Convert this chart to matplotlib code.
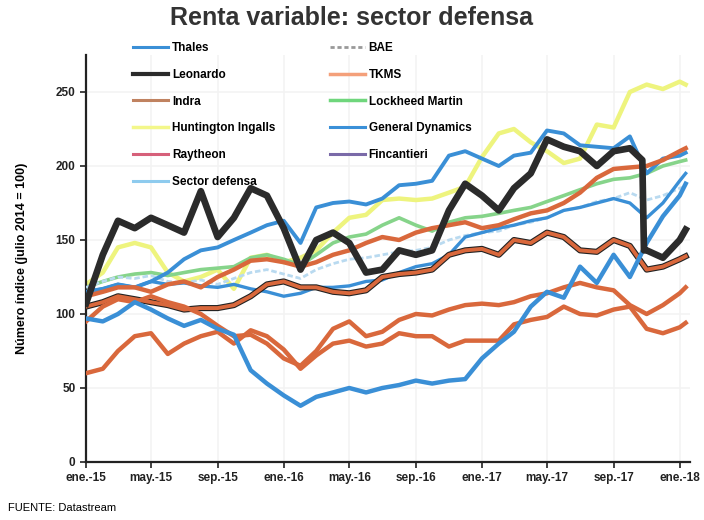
import matplotlib
matplotlib.use("Agg")
import matplotlib.pyplot as plt
from matplotlib.lines import Line2D
import pandas as pd

plt.rcParams['font.family'] = ['Liberation Sans', 'DejaVu Sans']

# ---- data (monthly readings, julio 2014 = 100) ----
dates = list(pd.date_range("2015-01-01", periods=37, freq="MS")) + [pd.Timestamp("2018-01-12")]

thales = [97, 95, 100, 108, 103, 97, 92, 96, 90, 86, 62, 53, 45, 38, 44, 47, 50, 47, 50, 52,
          55, 53, 55, 56, 70, 80, 88, 105, 115, 111, 132, 121, 140, 125, 148, 166, 180, 188]
# Leonardo has two extra readings around its late-2017 fall
leonardo_dates = (list(pd.date_range("2015-01-01", periods=34, freq="MS"))
                  + [pd.Timestamp("2017-10-24"), pd.Timestamp("2017-10-27")]
                  + list(pd.date_range("2017-11-01", periods=3, freq="MS"))
                  + [pd.Timestamp("2018-01-12")])
leonardo = [107, 140, 163, 158, 165, 160, 155, 183, 152, 165, 185, 180, 158, 130, 150, 155, 148, 128, 130, 143,
            140, 143, 170, 188, 180, 170, 185, 195, 218, 213, 210, 200, 210, 212, 204, 143,
            143, 138, 150, 157]
indra = [105, 108, 112, 110, 108, 106, 103, 104, 104, 106, 112, 120, 122, 118, 118, 115, 114, 116, 125, 127,
         128, 130, 140, 143, 144, 140, 150, 148, 155, 152, 143, 142, 150, 146, 130, 132, 137, 139]
huntington = [120, 128, 145, 148, 145, 128, 122, 125, 130, 117, 138, 140, 135, 138, 143, 155, 165, 167, 177, 178,
              177, 178, 182, 186, 206, 222, 225, 216, 210, 202, 205, 228, 226, 250, 255, 252, 257, 255]
raytheon = [112, 115, 118, 118, 115, 120, 122, 118, 125, 130, 136, 137, 135, 132, 135, 140, 143, 148, 152, 150,
            155, 158, 160, 162, 158, 160, 164, 168, 170, 175, 182, 192, 198, 199, 200, 204, 210, 212]
sector = [115, 117, 120, 118, 122, 120, 121, 119, 118, 120, 117, 115, 112, 114, 118, 118, 119, 122, 123, 128,
          132, 134, 140, 152, 155, 158, 160, 163, 165, 170, 172, 175, 178, 175, 165, 175, 190, 195]
bae = [118, 122, 125, 124, 126, 122, 121, 123, 120, 124, 128, 130, 127, 124, 130, 134, 137, 138, 140, 142,
       143, 145, 150, 153, 155, 156, 160, 162, 165, 170, 172, 176, 178, 182, 177, 180, 185, 186]
tkms = [95, 105, 110, 108, 112, 108, 105, 100, 92, 85, 86, 80, 70, 65, 75, 90, 95, 85, 88, 96,
        100, 99, 103, 106, 107, 106, 108, 112, 114, 118, 121, 118, 116, 106, 100, 106, 114, 118]
lockheed = [118, 122, 125, 127, 128, 126, 128, 130, 131, 132, 138, 140, 137, 133, 140, 148, 152, 154, 160, 165,
            160, 156, 162, 165, 166, 168, 170, 172, 176, 180, 184, 188, 191, 192, 195, 200, 203, 204]
gd = [115, 117, 120, 118, 122, 128, 137, 143, 145, 150, 155, 160, 163, 148, 172, 175, 176, 174, 178, 187,
      188, 190, 207, 210, 205, 200, 207, 209, 224, 222, 214, 213, 212, 220, 195, 205, 207, 209]
fincantieri = [60, 63, 75, 85, 87, 73, 80, 85, 88, 80, 89, 85, 76, 63, 72, 80, 82, 78, 80, 87,
               85, 85, 78, 82, 82, 82, 93, 96, 98, 105, 100, 99, 103, 105, 90, 87, 91, 94]

tick_dates = pd.date_range("2015-01-01", "2018-01-01", freq="4MS")
tick_labels = ["ene.-15", "may.-15", "sep.-15", "ene.-16", "may.-16", "sep.-16",
               "ene.-17", "may.-17", "sep.-17", "ene.-18"]
legend_names = ["Thales", "Leonardo", "Indra", "Huntington Ingalls", "Raytheon", "Sector defensa",
                "BAE", "TKMS", "Lockheed Martin", "General Dynamics", "Fincantieri"]

# ---- figure ----
fig = plt.figure(figsize=(7.04, 5.2), dpi=100)
ax = fig.add_axes([86/704, 1-462/520, (690-86)/704, (462-55)/520])

BLUE = "#3a8fd6"
ORANGE = "#d9683c"

ax.plot(dates, huntington, color="#eef47e", lw=3.2, zorder=2)
ax.plot(dates, lockheed, color="#86d48a", lw=2.6, zorder=2)
ax.plot(dates, bae, color="#b9daf0", lw=2, ls=(0, (2, 1)), zorder=3)
ax.plot(dates, sector, color=BLUE, lw=2.4, zorder=3)
ax.plot(dates, gd, color=BLUE, lw=2.8, zorder=3)
ax.plot(dates, raytheon, color=ORANGE, lw=3.2, zorder=4)
ax.plot(dates, indra, color="#222222", lw=4.4, zorder=4)
ax.plot(dates, indra, color=ORANGE, lw=2.8, zorder=4)
ax.plot(dates, tkms, color=ORANGE, lw=3.2, zorder=4)
ax.plot(dates, fincantieri, color=ORANGE, lw=3.2, zorder=4)
ax.plot(dates, thales, color=BLUE, lw=3.2, zorder=5)
ax.plot(leonardo_dates, leonardo, color="#2b2b2b", lw=4.8, zorder=6)

ax.set_ylim(0, 275)
ax.set_yticks([0, 50, 100, 150, 200, 250])
ax.set_xlim(pd.Timestamp("2015-01-01"), pd.Timestamp("2018-01-20"))
ax.set_xticks(tick_dates)
ax.set_xticklabels(tick_labels)

for s in ["top", "right"]:
    ax.spines[s].set_visible(False)
for s in ["left", "bottom"]:
    ax.spines[s].set_linewidth(1.6)
    ax.spines[s].set_color("#222222")
ax.tick_params(axis="both", direction="out", length=4, width=1.2, labelsize=8.5, colors="#222222")
for lab in ax.get_xticklabels() + ax.get_yticklabels():
    lab.set_fontweight("bold")
ax.grid(True, color="#f3f3f3", lw=1.2)
ax.set_axisbelow(True)

ax.set_ylabel("Número índice (julio 2014 = 100)", fontsize=9, fontweight="bold", labelpad=20)

# legend with proxy handles
legend_styles = [
    dict(color="#3a8fd6", lw=2.2),
    dict(color="#2b2b2b", lw=3),
    dict(color="#c08260", lw=2.2),
    dict(color="#f3f78a", lw=2.5),
    dict(color="#d6607a", lw=2.2),
    dict(color="#8ecbee", lw=2.2),
    dict(color="#999999", lw=2, ls=(0, (1.5, 1))),
    dict(color="#f4a07a", lw=2.5),
    dict(color="#6fd67c", lw=2.5),
    dict(color="#3a90d8", lw=2.2),
    dict(color="#7a6aa8", lw=2.2),
]
handles = [Line2D([], [], **st) for st in legend_styles]
leg = ax.legend(handles, legend_names, ncol=2, loc="upper left",
                bbox_to_anchor=(133/704, 1-42/520), bbox_transform=fig.transFigure,
                frameon=False, borderpad=0, borderaxespad=0, handlelength=3.0,
                handletextpad=0.3, labelspacing=1.25, columnspacing=4.6,
                prop=dict(size=8.5, weight="bold"))
leg.set_zorder(10)

fig.text(352/704, 1-18/520, "Renta variable: sector defensa", ha="center", va="center",
         fontsize=18, fontweight="bold", color="#333333")
fig.text(8/704, 1-508/520, "FUENTE: Datastream", ha="left", va="center", fontsize=8)

fig.savefig("out.png", dpi=100)
